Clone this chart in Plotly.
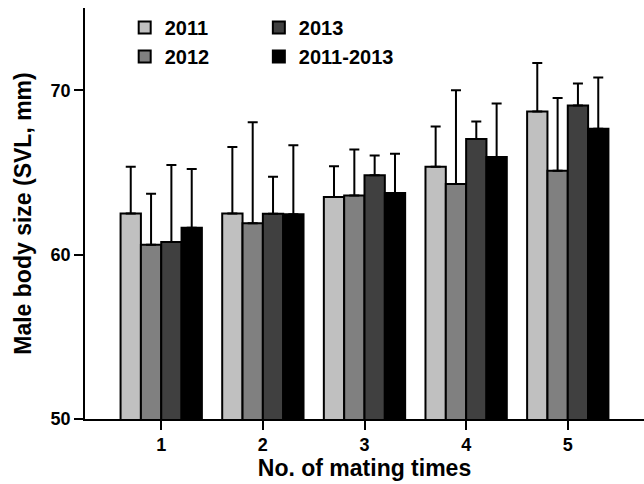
import plotly.graph_objects as go

categories = [1, 2, 3, 4, 5]
series_names = ["2011", "2012", "2013", "2011-2013"]
means_2011 = [62.5, 62.5, 63.5, 65.35, 68.7]
sd_2011 = [2.85, 4.05, 1.87, 2.44, 2.95]
means_2012 = [60.6, 61.9, 63.6, 64.3, 65.1]
sd_2012 = [3.1, 6.15, 2.8, 5.7, 4.43]
means_2013 = [60.77, 62.48, 64.83, 67.03, 69.07]
sd_2013 = [4.68, 2.26, 1.2, 1.06, 1.34]
means_all = [61.63, 62.46, 63.74, 65.93, 67.66]
sd_all = [3.57, 4.19, 2.4, 3.26, 3.11]
colors = ["#c0c0c0", "#808080", "#404040", "#000000"]
y_ticks = [50, 60, 70]

means = [means_2011, means_2012, means_2013, means_all]
sds = [sd_2011, sd_2012, sd_2013, sd_all]
legend_ids = ["legend", "legend", "legend2", "legend2"]

FONT = "Arial, Liberation Sans, sans-serif"

fig = go.Figure()
for name, m, s, c, lg in zip(series_names, means, sds, colors, legend_ids):
    fig.add_trace(go.Bar(
        x=categories, y=m, name=name, legend=lg,
        marker=dict(color=c, line=dict(color="#000000", width=2)),
        error_y=dict(type="data", symmetric=False, array=s,
                     arrayminus=[0] * len(s), color="#000000",
                     thickness=2, width=5),
    ))

fig.update_layout(
    width=644, height=484,
    margin=dict(l=85, r=0, t=8, b=65, autoexpand=False),
    paper_bgcolor="white", plot_bgcolor="white",
    barmode="group", bargap=0.2, bargroupgap=0,
    font=dict(family=FONT, color="#000000"),
    legend=dict(x=0.071, y=1.0, xanchor="left", yanchor="top",
                orientation="v", tracegroupgap=0,
                font=dict(size=20, weight="bold", family=FONT),
                bgcolor="rgba(0,0,0,0)"),
    legend2=dict(x=0.311, y=1.0, xanchor="left", yanchor="top",
                 orientation="v", tracegroupgap=0,
                 font=dict(size=20, weight="bold", family=FONT),
                 bgcolor="rgba(0,0,0,0)"),
)
fig.update_xaxes(
    range=[0.25, 5.75], tickmode="array", tickvals=categories,
    ticktext=[str(c) for c in categories],
    ticks="outside", ticklen=9, tickwidth=1.5, tickcolor="#000000",
    showline=True, linecolor="#000000", linewidth=1.5,
    showgrid=False, zeroline=False, automargin=False,
    tickfont=dict(size=18, weight="bold", family=FONT),
    title=dict(text="No. of mating times",
               font=dict(size=23, weight="bold", family=FONT), standoff=4),
)
fig.update_yaxes(
    range=[50, 75], tickmode="array", tickvals=y_ticks,
    ticks="outside", ticklen=9, tickwidth=1.5, tickcolor="#000000",
    showline=True, linecolor="#000000", linewidth=1.5,
    showgrid=False, zeroline=False, automargin=False,
    tickfont=dict(size=18, weight="bold", family=FONT),
    title=dict(text="Male body size (SVL, mm)",
               font=dict(size=23, weight="bold", family=FONT), standoff=13),
)

fig.write_html("out.html", config={"displayModeBar": False},
               post_script="document.body.style.margin='0';document.body.style.overflow='hidden';")
